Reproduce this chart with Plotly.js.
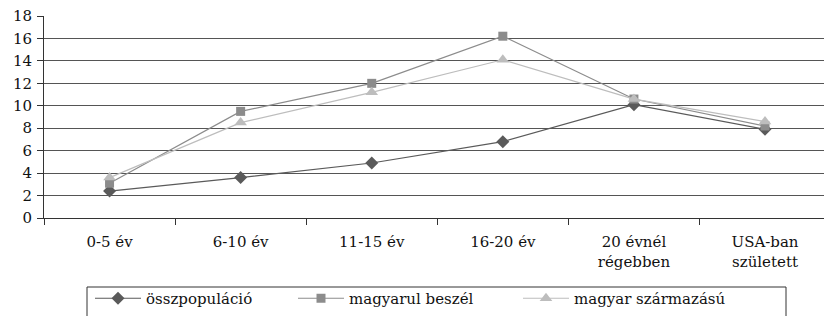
<!DOCTYPE html>
<html><head><meta charset="utf-8">
<script src="https://cdn.plot.ly/plotly-3.0.1.min.js"></script>
<style>html,body{margin:0;padding:0;background:#fff;}#chart{width:824px;height:316px;}</style>
</head><body><div id="chart"></div>
<script>
const categories = ["0-5 év", "6-10 év", "11-15 év", "16-20 év", "20 évnél<br>régebben", "USA-ban<br>született"];
const osszpopulacio = [2.4, 3.6, 4.9, 6.8, 10.1, 7.9];
const magyarulBeszel = [3.1, 9.5, 12.0, 16.2, 10.6, 8.2];
const magyarSzarmazasu = [3.6, 8.5, 11.2, 14.1, 10.6, 8.6];
const seriesNames = ["összpopuláció", "magyarul beszél", "magyar származású"];
const yTicks = [0, 2, 4, 6, 8, 10, 12, 14, 16, 18];

const font = {family: "DejaVu Serif", size: 15, color: "#111"};
const W = 824, H = 316, mL = 44, mR = 0, mT = 16, mB = 98;
const pw = W - mL - mR, ph = H - mT - mB;
const px = v => (v - mL) / pw;
const py = v => (H - mB - v) / ph;

const traces = [
  {x: categories, y: osszpopulacio, name: seriesNames[0], legend: "legend",
   mode: "lines+markers", line: {color: "#5a5a5a", width: 1.2},
   marker: {symbol: "diamond", size: 10, color: "#5a5a5a"}},
  {x: categories, y: magyarulBeszel, name: seriesNames[1], legend: "legend2",
   mode: "lines+markers", line: {color: "#8c8c8c", width: 1.2},
   marker: {symbol: "square", size: 9, color: "#8c8c8c"}},
  {x: categories, y: magyarSzarmazasu, name: seriesNames[2], legend: "legend3",
   mode: "lines+markers", line: {color: "#bdbdbd", width: 1.2},
   marker: {symbol: "triangle-up", size: 11, color: "#bdbdbd"}}
];

const legBase = {orientation: "h", xanchor: "left", yanchor: "bottom", y: py(315),
  font: font, bgcolor: "rgba(0,0,0,0)", borderwidth: 0, itemwidth: 46};

const layout = {
  width: W, height: H,
  margin: {l: mL, r: mR, t: mT, b: mB, pad: 0},
  paper_bgcolor: "#fff", plot_bgcolor: "#fff",
  font: font,
  showlegend: true,
  legend: Object.assign({}, legBase, {x: px(90)}),
  legend2: Object.assign({}, legBase, {x: px(293)}),
  legend3: Object.assign({}, legBase, {x: px(518)}),
  xaxis: {type: "category", range: [-0.5, 5.45], tickson: "boundaries",
    ticks: "outside", ticklen: 6, tickcolor: "#333", showgrid: false,
    ticklabelstandoff: 10,
    showline: true, linecolor: "#333", linewidth: 1, tickfont: font, zeroline: false},
  yaxis: {range: [0, 18], tickvals: yTicks, ticktext: yTicks.map(String),
    ticks: "outside", ticklen: 6, tickcolor: "#333", showgrid: true,
    gridcolor: "#555", gridwidth: 1, showline: true, linecolor: "#333", linewidth: 1,
    zeroline: false, tickfont: font, ticklabelstandoff: 2},
  shapes: [{type: "rect", xref: "paper", yref: "paper",
    x0: px(87), x1: px(786), y0: py(287), y1: py(330),
    line: {color: "#333", width: 1}, fillcolor: "rgba(0,0,0,0)"}]
};
Plotly.newPlot("chart", traces, layout, {staticPlot: true, displayModeBar: false});
</script></body></html>
